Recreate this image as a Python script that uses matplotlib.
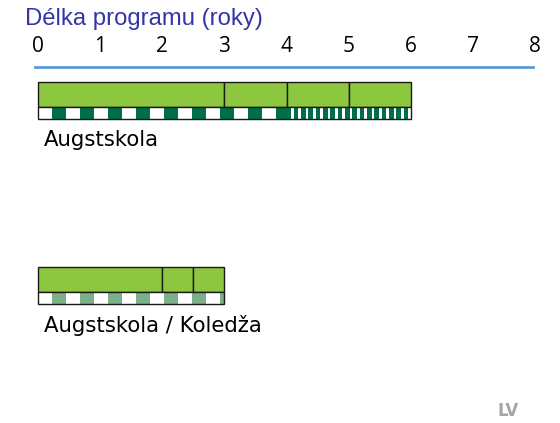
import numpy as np
import matplotlib.pyplot as plt

# osa (roky)
ticks = [0, 1, 2, 3, 4, 5, 6, 7, 8]
title = "Délka programu (roky)"

# programy: hranice segmentů (roky)
prog_names = ["Augstskola", "Augstskola / Koledža"]
seg_starts = [[0, 3, 4, 5], [0, 2, 2.5]]
seg_ends = [[3, 4, 5, 6], [2, 2.5, 3]]
# vzory pod pruhem: (od, do, typ)
patt_from = [[0, 4], [0]]
patt_to = [[4, 6], [3]]
patt_kind = [["hrube", "jemne"], ["svetle"]]

green = "#8dc63f"
dark = "#006f47"
light = "#7cae8a"

px = 62.125  # px na rok
fig = plt.figure(figsize=(5.6, 4.23), dpi=100)
ax = fig.add_axes([0, 0, 1, 1])
ax.set_xlim(-38 / px, (560 - 38) / px)
ax.set_ylim(423, 0)
ax.axis("off")

ax.text(-13 / px, 19, title, color="#3535a5", fontsize=17.2,
        family="Liberation Sans", va="center", ha="left")
for t in ticks:
    ax.text(t, 47, str(t), fontsize=15, ha="center", va="center",
            family="Open Sans")
ax.plot([-3 / px, 8 - 2 / px], [67, 67], color="#5b9bd5", lw=2)

tops = [82, 267]
for i, name in enumerate(prog_names):
    top = tops[i]
    for s, e in zip(seg_starts[i], seg_ends[i]):
        ax.barh(top + 12.5, e - s, left=s, height=25, color=green,
                edgecolor="#1a1a1a", lw=1)
    # pruh se vzorem
    for a, b, k in zip(patt_from[i], patt_to[i], patt_kind[i]):
        if k == "jemne":
            w = 0.118
            col = dark
        else:
            w = 0.225
            col = dark if k == "hrube" else light
        ax.barh(top + 31.5, b - a, left=a, height=12, color="white", lw=0)
        x = a + (w if k != "jemne" else 0)
        while x < b - 1e-6:
            ww = min(w if k != "jemne" else w * 0.6, b - x)
            ax.barh(top + 31.5, ww, left=x, height=12, color=col, lw=0)
            x += 2 * w if k != "jemne" else w
    ax.barh(top + 31.5, max(patt_to[i]), left=0, height=12, fill=False,
            edgecolor="#1a1a1a", lw=1)
    ax.text(6 / px, top + 58, name, fontsize=15.3, family="DejaVu Sans",
            va="center", ha="left")

ax.text((508 - 38) / px, 411, "LV", color="#a6a6a6", fontsize=12,
        weight="bold", ha="center", va="center")

fig.savefig("out.png", dpi=100)
